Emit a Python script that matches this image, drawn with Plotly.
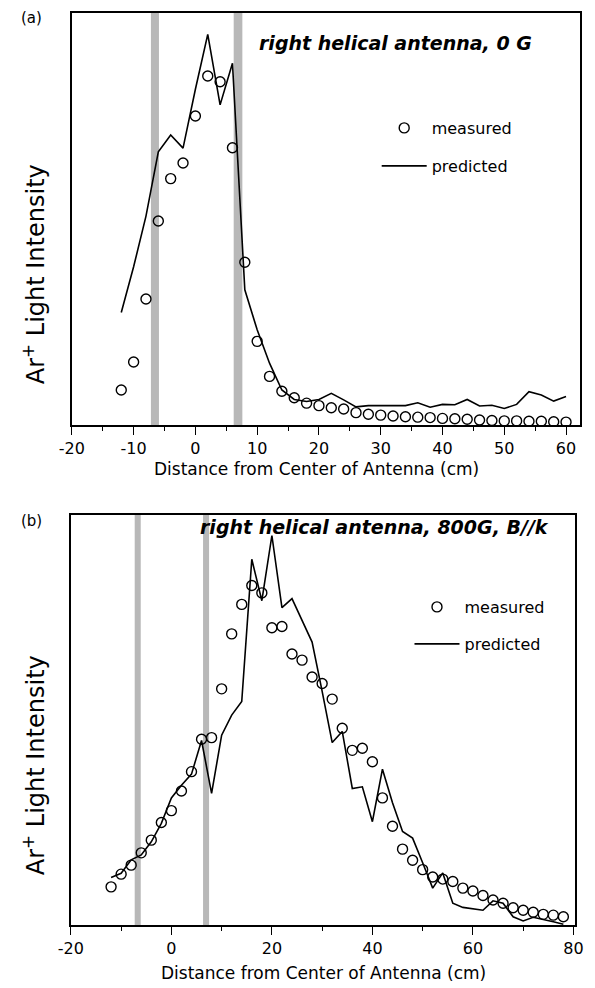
import plotly.graph_objects as go

W, H = 595, 988

# ---------------- data (panel a) ----------------
x_a = [-12, -10, -8, -6, -4, -2, 0, 2, 4, 6, 8, 10, 12, 14, 16, 18, 20, 22, 24, 26,
       28, 30, 32, 34, 36, 38, 40, 42, 44, 46, 48, 50, 52, 54, 56, 58, 60]
measured_a = [8.5, 15.3, 30.6, 49.5, 59.8, 63.6, 75.0, 84.7, 83.3, 67.3, 39.5, 20.3,
              11.8, 8.2, 6.6, 5.3, 4.7, 4.2, 3.9, 3.0, 2.6, 2.4, 2.2, 2.0, 1.9, 1.8,
              1.6, 1.5, 1.4, 1.2, 1.1, 1.0, 1.0, 0.9, 0.9, 0.8, 0.7]
predicted_a = [27.3, 38.4, 50.7, 66.3, 70.4, 67.2, 81.5, 94.8, 77.7, 87.8, 32.8, 23.1,
               15.0, 8.5, 6.2, 5.7, 6.2, 7.7, 6.1, 4.4, 4.7, 4.7, 4.7, 4.7, 5.4, 4.3,
               5.0, 4.9, 6.2, 4.6, 4.8, 4.0, 5.0, 8.1, 7.3, 5.8, 6.9]

# ---------------- data (panel b) ----------------
x_b = [-12, -10, -8, -6, -4, -2, 0, 2, 4, 6, 8, 10, 12, 14, 16, 18, 20, 22, 24, 26,
       28, 30, 32, 34, 36, 38, 40, 42, 44, 46, 48, 50, 52, 54, 56, 58, 60, 62, 64, 66,
       68, 70, 72, 74, 76, 78]
measured_b = [9.3, 12.4, 14.6, 17.6, 20.7, 25.0, 27.9, 32.7, 37.4, 45.3, 45.7, 57.6,
              71.0, 78.2, 82.8, 81.0, 72.5, 72.8, 66.1, 64.6, 60.5, 58.9, 55.1, 48.0,
              42.6, 43.1, 39.8, 31.0, 24.1, 18.5, 15.8, 13.5, 11.7, 11.2, 10.6, 9.0,
              8.3, 7.2, 6.1, 5.3, 4.2, 3.6, 3.1, 2.6, 2.4, 2.0]
predicted_b = [11.6, 12.6, 15.9, 17.1, 20.3, 24.8, 31.0, 34.1, 36.8, 45.0, 32.1, 46.3,
               51.2, 54.5, 89.2, 79.1, 95.0, 77.4, 79.6, 74.4, 69.0, 57.0, 44.5, 47.2,
               33.3, 33.7, 25.2, 38.0, 29.8, 22.8, 21.2, 15.2, 9.0, 12.7, 5.3, 4.3,
               3.9, 3.6, 5.9, 5.3, 2.0, 1.0, 1.9, 1.4, 0.8, 0.2]

# antenna strap positions (shaded bands), cm
bands_a = [(-7.2, -5.9), (6.2, 7.6)]
bands_b = [(-7.3, -6.1), (6.3, 7.5)]

ticks_a = [-20, -10, 0, 10, 20, 30, 40, 50, 60]
minor_a = [-15, -5, 5, 15, 25, 35, 45, 55]
ticks_b = [-20, 0, 20, 40, 60, 80]
minor_b = [-10, 10, 30, 50, 70]

FONT = "DejaVu Sans"

fig = go.Figure()

marker = dict(symbol="circle-open", size=10, color="black", line=dict(width=1.4, color="black"))
line = dict(color="black", width=1.6)

fig.add_trace(go.Scatter(x=x_a, y=measured_a, mode="markers", marker=marker, showlegend=True,
                         name="measured", xaxis="x", yaxis="y", legend="legend"))
fig.add_trace(go.Scatter(x=x_a, y=predicted_a, mode="lines", line=line, showlegend=True,
                         name="predicted", xaxis="x", yaxis="y", legend="legend2"))
fig.add_trace(go.Scatter(x=x_b, y=measured_b, mode="markers", marker=marker, showlegend=True,
                         name="measured", xaxis="x2", yaxis="y2", legend="legend3"))
fig.add_trace(go.Scatter(x=x_b, y=predicted_b, mode="lines", line=line, showlegend=True,
                         name="predicted", xaxis="x2", yaxis="y2", legend="legend4"))

def px(v):
    return v / W

def py(v):
    return 1 - v / H

def xaxis_common(domain, rng, tv, mv, anchor):
    return dict(domain=domain, range=rng, anchor=anchor,
                tickmode="array", tickvals=tv, ticktext=[str(t) for t in tv],
                ticks="outside", ticklen=8, tickwidth=1.3, tickcolor="black",
                minor=dict(tickmode="array", tickvals=mv, ticks="outside", ticklen=4,
                           tickwidth=1.2, tickcolor="black"),
                showline=True, mirror=True, linecolor="black", linewidth=1.5,
                showgrid=False, zeroline=False,
                tickfont=dict(family=FONT, size=16, color="black"))

def yaxis_common(domain, anchor):
    return dict(domain=domain, range=[0, 100], anchor=anchor, showticklabels=False,
                ticks="", showline=True, mirror=True, linecolor="black", linewidth=1.5,
                showgrid=False, zeroline=False)

shapes = []
for x0, x1 in bands_a:
    shapes.append(dict(type="rect", xref="x", yref="y domain", x0=x0, x1=x1, y0=0, y1=1,
                       fillcolor="#b8b8b8", line=dict(width=0), layer="below"))
for x0, x1 in bands_b:
    shapes.append(dict(type="rect", xref="x2", yref="y2 domain", x0=x0, x1=x1, y0=0, y1=1,
                       fillcolor="#b8b8b8", line=dict(width=0), layer="below"))

def leg(x, y):
    return dict(x=px(x), y=py(y), xanchor="left", yanchor="middle", xref="paper", yref="paper",
                bgcolor="rgba(0,0,0,0)", borderwidth=0, itemwidth=45,
                font=dict(family=FONT, size=16, color="black"))

def ann(text, x, y, size, angle=0):
    return dict(text=text, x=px(x), y=py(y), xref="paper", yref="paper", showarrow=False,
                xanchor="center", yanchor="middle", textangle=angle,
                font=dict(family=FONT, size=size, color="black"))

annotations = [
    ann("<b><i>right helical antenna, 0 G</i></b>", 396, 43, 19),
    ann("<b><i>right helical antenna, 800G, B//k</i></b>", 375, 527, 19),
    ann("(a)", 19, 18, 15),
    ann("(b)", 19, 521, 15),
    ann("Ar<sup>+</sup> Light Intensity", 22, 274, 24, angle=-90),
    ann("Ar<sup>+</sup> Light Intensity", 22, 765, 24, angle=-90),
    ann("Distance from Center of Antenna (cm)", 315, 469, 17),
    ann("Distance from Center of Antenna (cm)", 322, 973, 17),
]

fig.update_layout(
    width=W, height=H, margin=dict(l=0, r=0, t=0, b=0),
    paper_bgcolor="white", plot_bgcolor="white", showlegend=True,
    xaxis=xaxis_common([px(61), px(588)], [-20, 62.3], ticks_a, minor_a, "y"),
    yaxis=yaxis_common([py(425), py(13)], "x"),
    xaxis2=xaxis_common([px(60), px(583)], [-20, 80.4], ticks_b, minor_b, "y2"),
    yaxis2=yaxis_common([py(925), py(515)], "x2"),
    shapes=shapes, annotations=annotations,
    legend=leg(377, 128), legend2=leg(377, 166), legend3=leg(411, 607), legend4=leg(411, 644),
    font=dict(family=FONT, color="black"),
)

fig.write_html("out.html")
